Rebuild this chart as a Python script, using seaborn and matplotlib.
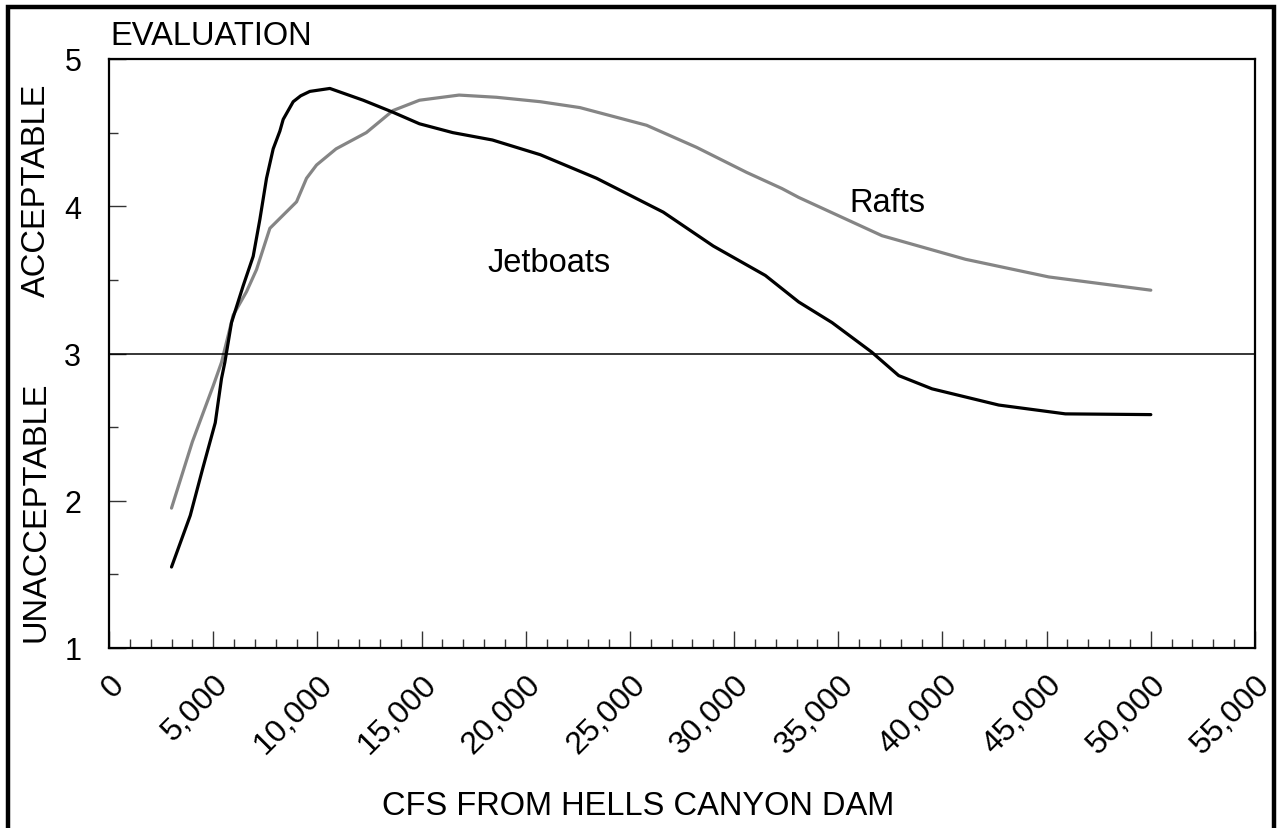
import matplotlib
matplotlib.use('Agg')
import matplotlib.pyplot as plt
import matplotlib.ticker as mticker
from matplotlib.patches import Rectangle
import seaborn as sns
import pandas as pd

# Данные
jet_cfs = [3000, 3900, 4500, 5100, 5400, 5560, 5880, 6440, 6920, 7240, 7560,
           7880, 8200, 8360, 8840, 9200, 9640, 10600, 12200, 13600, 14900,
           16500, 18400, 20700, 23400, 26600, 29000, 31500, 33100, 34700,
           36600, 37900, 39500, 42700, 45900, 50000]
jet_eval = [1.55, 1.90, 2.22, 2.53, 2.83, 2.94, 3.21, 3.46, 3.66, 3.91, 4.19,
            4.39, 4.51, 4.59, 4.71, 4.75, 4.78, 4.80, 4.72, 4.64, 4.56,
            4.50, 4.45, 4.35, 4.19, 3.96, 3.73, 3.53, 3.35, 3.21,
            3.01, 2.85, 2.76, 2.65, 2.59, 2.585]

raft_cfs = [3000, 4000, 5000, 5400, 5960, 6600, 7080, 7720, 8360, 9000,
            9480, 9960, 10900, 12350, 13630, 14900, 16800, 18600, 20700,
            22600, 25800, 28200, 30600, 32300, 33100, 37100, 41100, 45100,
            50000]
raft_eval = [1.95, 2.40, 2.78, 2.94, 3.26, 3.42, 3.57, 3.85, 3.94, 4.03,
             4.19, 4.28, 4.39, 4.50, 4.65, 4.72, 4.755, 4.74, 4.71,
             4.67, 4.55, 4.40, 4.23, 4.12, 4.06, 3.80, 3.64, 3.52,
             3.43]

W, H = 1277, 829

sns.set_theme(style="white")
plt.rcParams['font.family'] = ['Liberation Sans', 'DejaVu Sans']
plt.rcParams['text.color'] = 'black'

fig = plt.figure(figsize=(W / 100, H / 100), dpi=100)
ax = fig.add_axes([109 / W, 1 - 649 / H, (1255 - 109) / W, (649 - 60) / H])

df_jet = pd.DataFrame({'cfs': jet_cfs, 'eval': jet_eval})
df_raft = pd.DataFrame({'cfs': raft_cfs, 'eval': raft_eval})

sns.lineplot(data=df_raft, x='cfs', y='eval', ax=ax, color='#858585',
             linewidth=2.3, solid_capstyle='round', solid_joinstyle='round')
sns.lineplot(data=df_jet, x='cfs', y='eval', ax=ax, color='black',
             linewidth=2.3, solid_capstyle='round', solid_joinstyle='round')

ax.axhline(3, color='black', linewidth=1.1)

ax.set_xlim(0, 55000)
ax.set_ylim(1, 5)
ax.set_xlabel('')
ax.set_ylabel('')

ax.xaxis.set_major_locator(mticker.MultipleLocator(5000))
ax.xaxis.set_minor_locator(mticker.MultipleLocator(1000))
ax.yaxis.set_major_locator(mticker.MultipleLocator(1))
ax.yaxis.set_minor_locator(mticker.MultipleLocator(0.5))
ax.xaxis.set_major_formatter(mticker.StrMethodFormatter('{x:,.0f}'))

ax.tick_params(which='major', direction='in', length=12, width=1,
               color='#333333', labelcolor='black')
ax.tick_params(which='minor', direction='in', length=6.5, width=1,
               color='#333333')
ax.tick_params(axis='y', which='both', left=True, pad=20, labelsize=22)
ax.tick_params(axis='x', which='both', bottom=True, pad=15, labelsize=23)
for lab in ax.get_xticklabels():
    lab.set_rotation(45)
    lab.set_ha('right')
    lab.set_va('top')
    lab.set_rotation_mode('anchor')

for side in ['left', 'bottom', 'top', 'right']:
    ax.spines[side].set_color('black')
    ax.spines[side].set_linewidth(1.6)

# Подписи серий
ax.text(18170, 3.56, 'Jetboats', fontsize=23.5, va='baseline', ha='left')
ax.text(35520, 3.97, 'Rafts', fontsize=23.5, va='baseline', ha='left')

# Заголовки осей
fig.text(110 / W, 1 - 45 / H, 'EVALUATION', fontsize=23.5,
         va='baseline', ha='left')
fig.text(0.5, 1 - 815 / H, 'CFS FROM HELLS CANYON DAM', fontsize=23.5,
         va='baseline', ha='center')
fig.text(36 / W, 1 - 512 / H, 'UNACCEPTABLE', fontsize=23.5, rotation=90,
         va='center', ha='center')
fig.text(36 / W, 1 - 190 / H, 'ACCEPTABLE', fontsize=23.5, rotation=90,
         va='center', ha='center')

# Рамка вокруг всего рисунка (снизу обрезана)
fig.patches.append(Rectangle((7.5 / W, -0.05), (1274 - 7.5) / W, 1.05 - 7.5 / H,
                             transform=fig.transFigure, fill=False,
                             edgecolor='black', linewidth=3.2,
                             clip_on=False))

fig.savefig('out.png', dpi=100, facecolor='white')
plt.close(fig)
